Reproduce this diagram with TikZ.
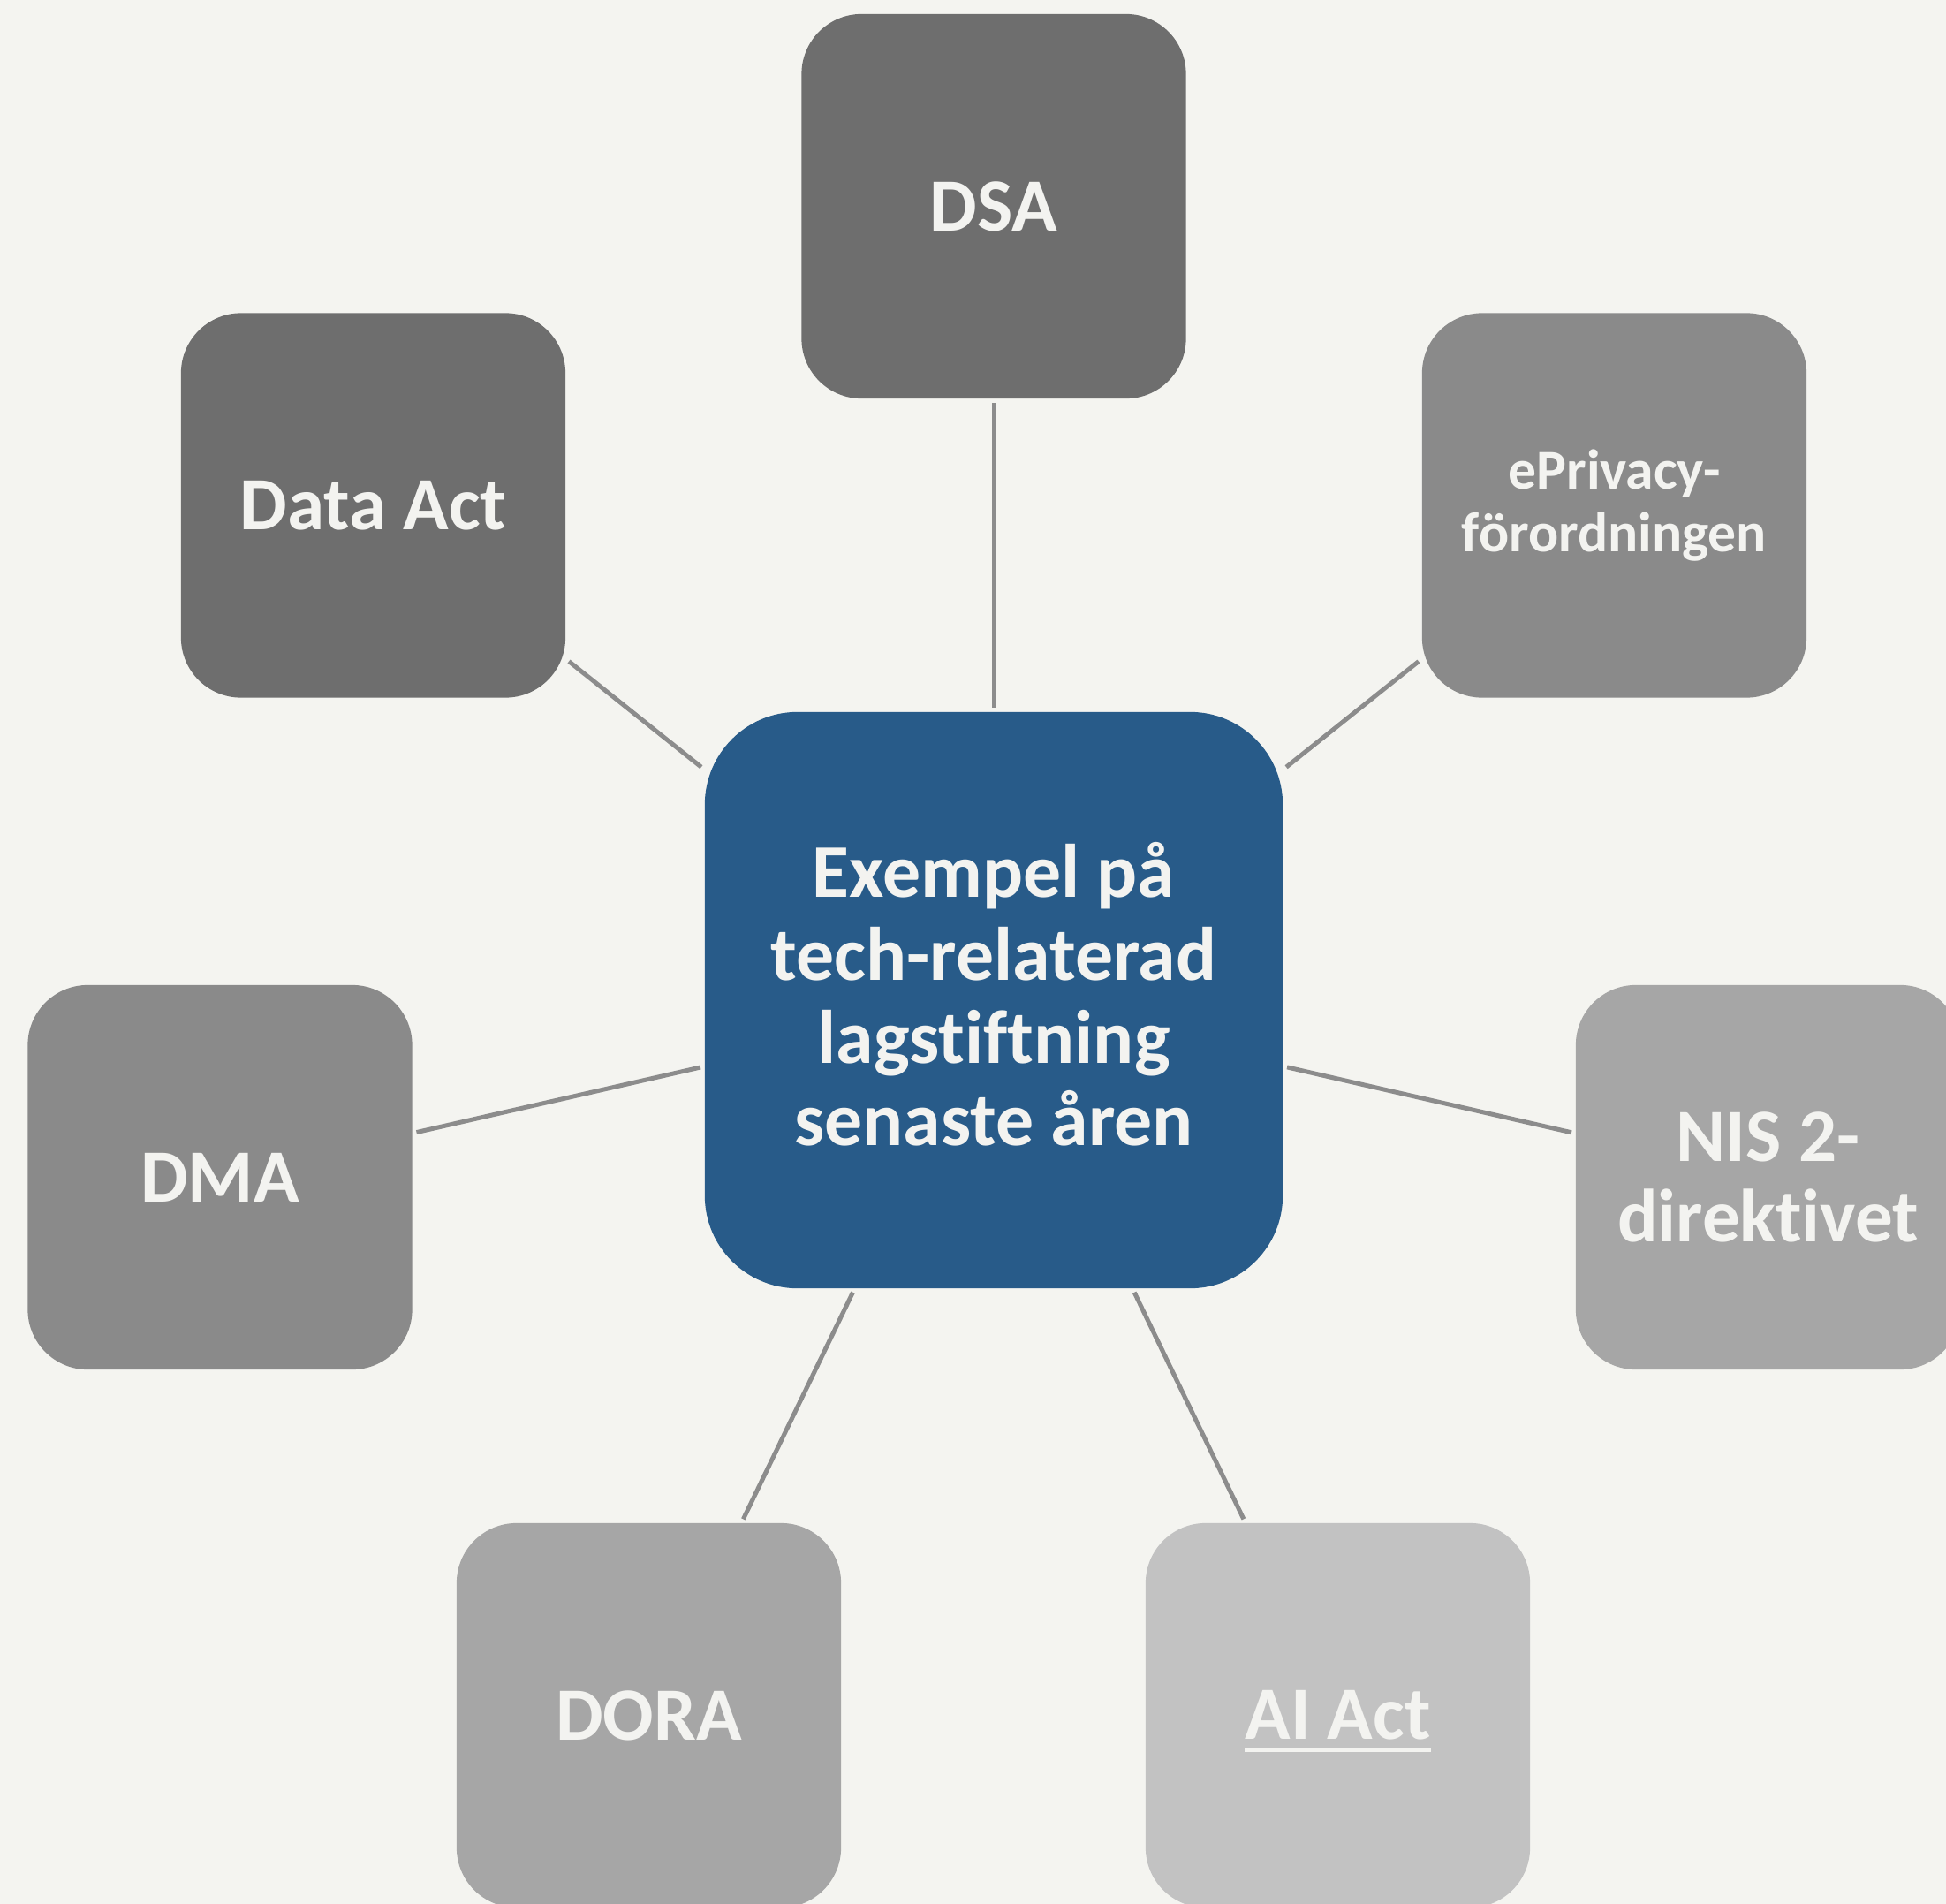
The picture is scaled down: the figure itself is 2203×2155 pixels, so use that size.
\documentclass[tikz,border=0pt]{standalone}
\usepackage{fontspec}
\setmainfont{Carlito}[Ligatures={NoCommon}]
\definecolor{bgc}{RGB}{244,244,240}
\definecolor{txt}{RGB}{243,243,240}
\definecolor{gA}{RGB}{110,110,110}
\definecolor{gB}{RGB}{138,138,138}
\definecolor{gC}{RGB}{166,166,166}
\definecolor{gD}{RGB}{194,194,194}
\definecolor{hubc}{RGB}{40,91,137}
\definecolor{linec}{RGB}{140,140,140}
\newcommand{\myul}[1]{\setbox0\hbox{#1}\rlap{\smash{\rule[-3.98pt]{\wd0}{1.14pt}}}\box0}
\begin{document}
\begin{tikzpicture}[x=0.01cm,y=-0.01cm,
  sat/.style={rounded corners=0.68cm, minimum width=4.35cm, minimum height=4.35cm,
    inner sep=0pt, outer sep=0pt, text=txt, align=center,
    font=\bfseries\fontsize{24.2pt}{25.9pt}\selectfont},
  hub/.style={rounded corners=1.05cm, minimum width=6.54cm, minimum height=6.52cm,
    inner sep=0pt, outer sep=0pt, text=txt, align=center, fill=hubc,
    font=\bfseries\fontsize{24.4pt}{26.7pt}\selectfont},
  link/.style={draw=linec, line width=1.42pt, shorten <=0.05cm, shorten >=0.05cm}]
\path[use as bounding box, fill=bgc] (0,0) rectangle (2203,2155);
\clip (0,0) rectangle (2203,2155);

\node[hub] (c) at (1125,1132) {Exempel på\\tech-relaterad\\lagstiftning\\senaste åren\rule[-4pt]{0pt}{4pt}};

\node[sat, fill=gA] (dsa) at (1125,233.5) {DSA};
\node[sat, fill=gA] (data) at (422.5,572) {Data Act};
\node[sat, fill=gB, font=\bfseries\fontsize{18.1pt}{20.2pt}\selectfont] (epriv) at (1827.5,572) {ePrivacy-\\förordningen};
\node[sat, fill=gB] (dma) at (249,1332.5) {DMA};
\node[sat, fill=gC] (nis) at (2001.5,1332.5) {NIS 2-\\direktivet};
\node[sat, fill=gC] (dora) at (734.5,1941.5) {DORA};
\node[sat, fill=gD] (ai) at (1514.5,1941.5) {\myul{AI Act}};

\draw[link] (c) -- (dsa);
\draw[link] (c) -- (data);
\draw[link] (c) -- (epriv);
\draw[link] (c) -- (dma);
\draw[link] (c) -- (nis);
\draw[link] (c) -- (dora);
\draw[link] (c) -- (ai);
\end{tikzpicture}
\end{document}
